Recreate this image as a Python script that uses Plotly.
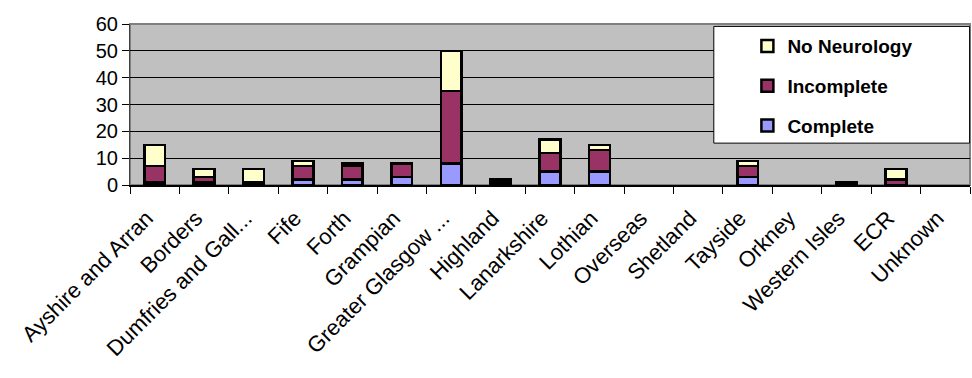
import plotly.graph_objects as go

categories = ["Ayshire and Arran", "Borders", "Dumfries and Gall...", "Fife", "Forth",
              "Grampian", "Greater Glasgow ...", "Highland", "Lanarkshire", "Lothian",
              "Overseas", "Shetland", "Tayside", "Orkney", "Western Isles", "ECR", "Unknown"]
complete = [1, 1, 0, 2, 2, 3, 8, 1, 5, 5, 0, 0, 3, 0, 0, 0, 0]
incomplete = [6, 2, 1, 5, 5, 5, 27, 1, 7, 8, 0, 0, 4, 0, 1, 2, 0]
no_neurology = [8, 3, 5, 2, 1, 0, 15, 0, 5, 2, 0, 0, 2, 0, 0, 4, 0]

series = [
    ("Complete", complete, "#9999FF", 3),
    ("Incomplete", incomplete, "#993366", 2),
    ("No Neurology", no_neurology, "#FFFFCC", 1),
]

FONT = "Liberation Sans, Arial, sans-serif"

fig = go.Figure()
for name, vals, color, rank in series:
    fig.add_trace(go.Bar(
        x=categories, y=[v if v else None for v in vals], name="<b>" + name + "</b>",
        legendgroup=name, legendrank=rank,
        marker=dict(color=color, line=dict(color="black", width=2.5)),
    ))

fig.update_layout(
    barmode="stack",
    bargap=0.58,
    width=972, height=378,
    margin=dict(l=130, r=2, t=24, b=193),
    paper_bgcolor="white",
    plot_bgcolor="#C0C0C0",
    font=dict(family=FONT, size=19, color="black"),
    showlegend=True,
    legend=dict(
        x=0.735, y=0.98, xanchor="left", yanchor="top",
        bgcolor="rgba(0,0,0,0)", borderwidth=0,
        traceorder="grouped", tracegroupgap=12,
        font=dict(family=FONT, size=19, color="black"),
    ),
    shapes=[
        dict(type="rect", xref="paper", yref="paper", x0=0, x1=1, y0=0, y1=1,
             line=dict(color="#808080", width=2), layer="below"),
        dict(type="rect", xref="paper", yref="paper", x0=0.695, x1=0.9995, y0=0.26, y1=0.985,
             fillcolor="white", line=dict(color="black", width=1), layer="above"),
    ],
)

fig.update_xaxes(
    tickangle=-45, showgrid=False,
    showline=True, linecolor="black", linewidth=1.5,
    ticks="outside", ticklen=7, tickcolor="black",
    tickson="boundaries", ticklabelstandoff=10, ticklabelshift=-8,
    tickfont=dict(family=FONT, size=22),
)
fig.update_yaxes(
    range=[0, 60], dtick=10,
    showgrid=True, gridcolor="black", gridwidth=1,
    showline=True, linecolor="#404040", linewidth=1,
    ticks="outside", ticklen=7, tickcolor="black",
    tickfont=dict(family=FONT, size=20),
    zeroline=False,
)

fig.write_html("out.html")
